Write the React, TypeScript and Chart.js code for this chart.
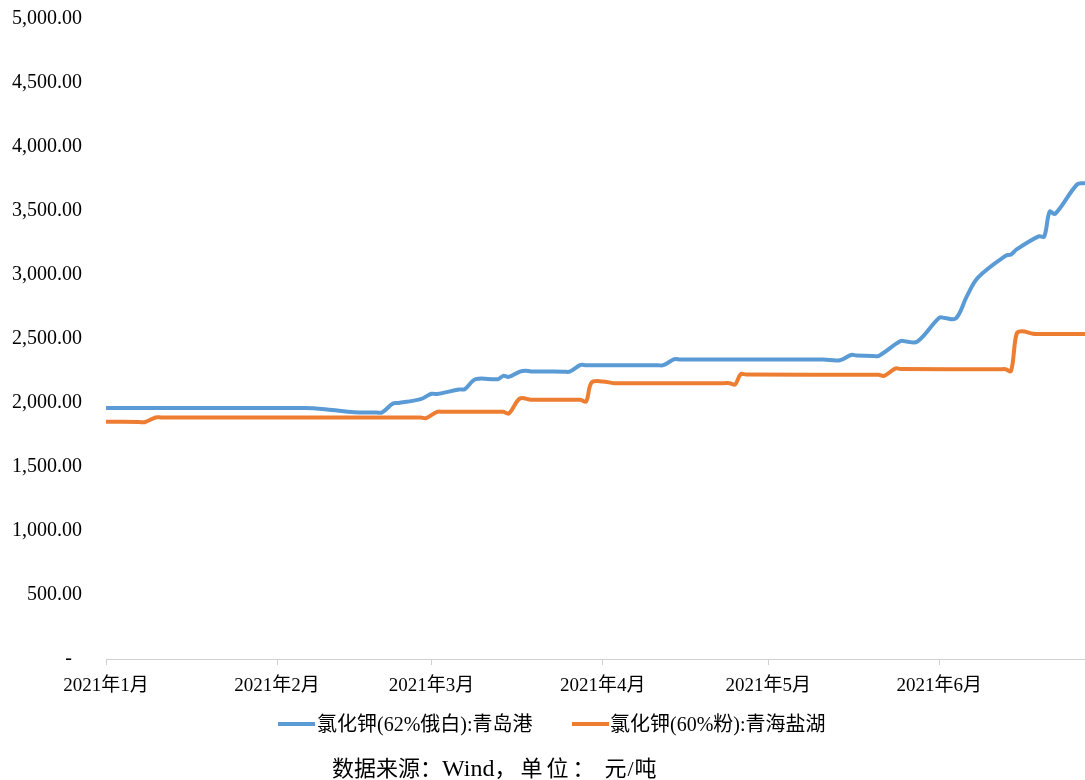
import React, { useEffect, useRef } from "react";
import { Chart, registerables } from "chart.js";

Chart.register(...registerables);

// Day index counted from 2021-01-01
const monthDays = [0, 31, 59, 90, 120, 151];
const monthLabels = ["2021年1月", "2021年2月", "2021年3月", "2021年4月", "2021年5月", "2021年6月"];
const yTicks = [0, 500, 1000, 1500, 2000, 2500, 3000, 3500, 4000, 4500, 5000];

const seriesNames = ["氯化钾(62%俄白):青岛港", "氯化钾(60%粉):青海盐湖"];
const seriesColors = ["#5b9bd5", "#ed7d31"];

const blueDays = [0, 36, 40, 45, 49, 50, 52, 53, 57, 59, 60, 64, 65, 67, 71, 72, 73, 75, 76, 77, 83, 84, 86, 87, 100, 101, 103, 104, 129, 130, 133, 135, 136, 139, 140, 144, 145, 147, 151, 152, 154, 156, 158, 163, 164, 165, 169, 170, 171, 172, 176, 177.4];
const blueValues = [1960, 1960, 1950, 1928, 1926, 1926, 1996, 2000, 2030, 2072, 2070, 2106, 2108, 2186, 2186, 2212, 2204, 2245, 2252, 2247, 2245, 2245, 2297, 2295, 2295, 2295, 2342, 2340, 2340, 2340, 2334, 2375, 2372, 2368, 2368, 2484, 2480, 2479, 2666, 2664, 2661, 2835, 2980, 3150, 3160, 3200, 3302, 3300, 3495, 3478, 3709, 3718];

const orangeDays = [0, 6, 7, 9, 10, 56, 57, 58, 60, 61, 71, 72, 73, 75, 77, 78, 85, 86, 87, 88, 90, 92, 93, 112, 113, 114, 115, 116, 139, 140, 141, 143, 144, 162, 163, 164, 165, 166, 168, 169, 177.4];
const orangeValues = [1853, 1852, 1850, 1887, 1887, 1887, 1887, 1882, 1931, 1931, 1931, 1931, 1918, 2035, 2025, 2025, 2025, 2025, 2012, 2160, 2168, 2155, 2155, 2155, 2155, 2145, 2225, 2222, 2220, 2220, 2212, 2269, 2266, 2264, 2264, 2250, 2540, 2560, 2541, 2540, 2540];

const sourcePrefix = "数据来源：";
const sourceWind = "Wind";
const sourceMid = "，单位：";
const sourceUnit = "元/吨";

const FONT = "'Liberation Serif', 'Noto Sans CJK SC', serif";

function fmt(v: number): string {
  if (v === 0) return "-  ";
  return v.toLocaleString("en-US", { minimumFractionDigits: 2, maximumFractionDigits: 2 });
}

export default function App() {
  const ref = useRef<HTMLCanvasElement | null>(null);

  useEffect(() => {
    document.body.style.margin = "0";
    const canvas = ref.current;
    if (!canvas) return;
    const toPts = (xs: number[], ys: number[]) => xs.map((x, i) => ({ x, y: ys[i] }));
    const chart = new Chart(canvas, {
      type: "line",
      data: {
        datasets: [
          {
            label: seriesNames[0],
            data: toPts(blueDays, blueValues),
            borderColor: seriesColors[0],
            backgroundColor: seriesColors[0],
            borderWidth: 4,
            pointRadius: 0,
            tension: 0.35,
            fill: false,
          },
          {
            label: seriesNames[1],
            data: toPts(orangeDays, orangeValues),
            borderColor: seriesColors[1],
            backgroundColor: seriesColors[1],
            borderWidth: 4,
            pointRadius: 0,
            tension: 0.35,
            fill: false,
          },
        ],
      },
      options: {
        animation: false,
        responsive: false,
        maintainAspectRatio: false,
        layout: { padding: { top: 19, right: 0, left: 0, bottom: 81 } },
        plugins: { legend: { display: false }, tooltip: { enabled: false } },
        scales: {
          x: {
            type: "linear",
            min: 0,
            max: 177.4,
            afterBuildTicks: (axis: any) => {
              axis.ticks = monthDays.map((v) => ({ value: v }));
            },
            afterFit: (scale: any) => {
              scale.height = 40;
              scale.paddingLeft = 0;
              scale.paddingRight = 0;
            },
            ticks: {
              autoSkip: false,
              maxRotation: 0,
              padding: 10,
              color: "#000",
              font: { family: FONT, size: 19 },
              callback: (value: any) => {
                const i = monthDays.indexOf(Number(value));
                return i >= 0 ? monthLabels[i] : "";
              },
            },
            grid: { drawOnChartArea: false, drawTicks: true, tickLength: 6, color: "#d0d0d0" },
            border: { display: true, color: "#d0d0d0", width: 1 },
          },
          y: {
            min: 0,
            max: 5000,
            afterBuildTicks: (axis: any) => {
              axis.ticks = yTicks.map((v) => ({ value: v }));
            },
            afterFit: (scale: any) => {
              scale.width = 106;
              scale.paddingTop = 0;
              scale.paddingBottom = 0;
            },
            ticks: {
              padding: 16,
              color: "#000",
              font: { family: FONT, size: 20 },
              callback: (value: any) => fmt(Number(value)),
            },
            grid: { display: false },
            border: { display: false },
          },
        },
      },
    });
    return () => chart.destroy();
  }, []);

  const textStyle: React.CSSProperties = {
    position: "absolute",
    fontFamily: FONT,
    fontSize: 20,
    color: "#000",
    whiteSpace: "nowrap",
    lineHeight: "24px",
  };

  return (
    <div style={{ position: "absolute", left: 0, top: 0, width: 1085, height: 780, background: "#fff" }}>
      <canvas ref={ref} width={1085} height={780} style={{ display: "block", width: 1085, height: 780 }} />
      <div style={{ position: "absolute", left: 278, top: 722, width: 37, height: 4, background: seriesColors[0] }} />
      <div style={{ ...textStyle, left: 317, top: 712 }}>{seriesNames[0]}</div>
      <div style={{ position: "absolute", left: 572, top: 722, width: 37, height: 4, background: seriesColors[1] }} />
      <div style={{ ...textStyle, left: 610, top: 712 }}>{seriesNames[1]}</div>
      <div style={{ ...textStyle, left: 332, top: 755, fontSize: 22, lineHeight: "26px" }}>
        <span>{sourcePrefix}</span>
        <span style={{ fontSize: 24 }}>{sourceWind}</span>
        <span style={{ letterSpacing: "4px" }}>{sourceMid}</span>
        <span style={{ letterSpacing: "1px", marginLeft: 6 }}>{sourceUnit}</span>
      </div>
    </div>
  );
}
